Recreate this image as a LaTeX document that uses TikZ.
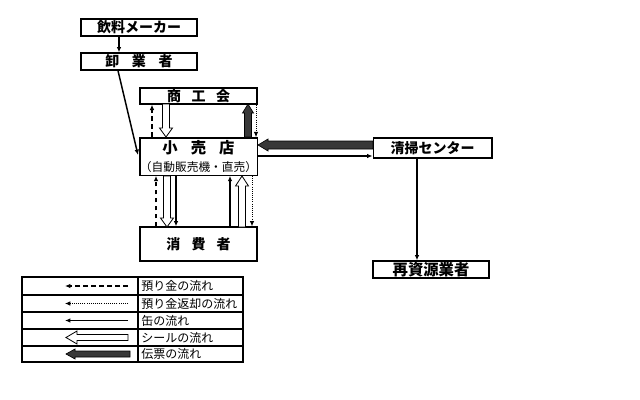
\documentclass[tikz,border=0pt]{standalone}
\usepackage{fontspec}
\setmainfont{Noto Sans CJK JP}
\usetikzlibrary{arrows.meta}
\begin{document}
\begin{tikzpicture}[x=0.75pt,y=-0.75pt,
  box/.style={draw,line width=1pt,rectangle,inner sep=0pt,font=\bfseries\fontsize{10.5}{12}\selectfont},
  tipped/.style={-{Latex[length=4pt,width=3.4pt]}},
  dsh/.style={tipped,dash pattern=on 3.6pt off 2.4pt,line width=1pt},
  dotl/.style={tipped,dash pattern=on 0.7pt off 0.9pt,line width=0.6pt},
  can/.style={tipped,line width=1.2pt},
  hollow/.style={draw,fill=white,line width=0.6pt},
  dark/.style={draw,fill=black!78,line width=0.5pt},
  legtext/.style={anchor=west,inner sep=0pt,font=\fontsize{9}{10}\selectfont},
  tab/.style={line width=0.9pt}]
\useasboundingbox (0,0) rectangle (640,400);

% boxes
\node[box,minimum width=87pt,minimum height=12.75pt] (maker) at (139,27.5) {飲料メーカー};
\node[box,minimum width=87pt,minimum height=12.75pt] (oroshi) at (139,61.5) {卸\hspace{0.9em}業\hspace{0.9em}者};
\node[box,minimum width=87.75pt,minimum height=12pt] (shoko) at (198.5,96) {商\hspace{0.75em}工\hspace{0.75em}会};
\node[box,minimum width=87.75pt,minimum height=28pt,align=center] (kouri) at (198.5,156.5)
  {{\fontsize{11.5}{12}\selectfont 小\hspace{0.85em}売\hspace{0.85em}店}\\[1.5pt]{\mdseries\fontsize{8.8}{10}\selectfont （自動販売機・直売）}};
\node[box,minimum width=87.75pt,minimum height=25.5pt] (shohi) at (198.5,244) {消\hspace{0.8em}費\hspace{0.8em}者};
\node[box,minimum width=89pt,minimum height=15pt] (seisou) at (432.5,148) {清掃センター};
\node[box,minimum width=87pt,minimum height=12.75pt,font=\bfseries\fontsize{11.5}{12}\selectfont] (saishigen) at (431,269.5) {再資源業者};

% column / row coordinates
\coordinate (xa) at (119,0);
\coordinate (xb) at (118,0);
\coordinate (c1) at (152,0);
\coordinate (c4) at (256,0);
\coordinate (d1) at (156,0);
\coordinate (d3) at (176,0);
\coordinate (d4) at (230,0);
\coordinate (d6) at (252,0);
\coordinate (ys) at (0,156);
\coordinate (xr) at (417,0);
\coordinate (wend) at (138,155);

% top chain
\draw[can] (xa |- maker.south) -- (xa |- oroshi.north);
\draw[can,line width=1.1pt] (xb |- oroshi.south) -- (wend);

% between shoko and kouri
\draw[dsh] (c1 |- kouri.north) -- (c1 |- shoko.south);
\draw[dotl] (c4 |- shoko.south) -- (c4 |- kouri.north);
\draw[hollow] (162.5,104) -- (162.5,128) -- (159.5,128) -- (166,137) -- (172.5,128) -- (169.5,128) -- (169.5,104) -- cycle;
\draw[dark] (244.5,137) -- (244.5,113) -- (242.5,113) -- (248,104) -- (253.5,113) -- (251.5,113) -- (251.5,137) -- cycle;

% between kouri and shohi
\draw[dsh] (d1 |- shohi.north) -- (d1 |- kouri.south);
\draw[hollow] (163.5,176) -- (163.5,218) -- (160.5,218) -- (167,227) -- (173.5,218) -- (170.5,218) -- (170.5,176) -- cycle;
\draw[can] (d3 |- kouri.south) -- (d3 |- shohi.north);
\draw[can] (d4 |- shohi.north) -- (d4 |- kouri.south);
\draw[hollow] (238.5,227) -- (238.5,186) -- (235.5,186) -- (242,176) -- (248.5,186) -- (245.5,186) -- (245.5,227) -- cycle;
\draw[dotl] (d6 |- kouri.south) -- (d6 |- shohi.north);

% kouri <-> seisou
\draw[dark] (373,141) -- (268,141) -- (268,139) -- (258,145) -- (268,151) -- (268,149) -- (373,149) -- cycle;
\draw[can] (kouri.east |- ys) -- (seisou.west |- ys);
\draw[can] (xr |- seisou.south) -- (xr |- saishigen.north);

% legend
\draw[tab] (22,277) rectangle (243,362);
\draw[tab] (22,295) -- (243,295);
\draw[tab] (22,312) -- (243,312);
\draw[tab] (22,329) -- (243,329);
\draw[tab] (22,346) -- (243,346);
\draw[tab] (138,277) -- (138,362);

\node[legtext] (l1) at (141,286) {預り金の流れ};
\node[legtext] (l2) at (141,303.5) {預り金返却の流れ};
\node[legtext] (l3) at (141,320.5) {缶の流れ};
\node[legtext] (l4) at (141,337.5) {シールの流れ};
\node[legtext] (l5) at (141,354) {伝票の流れ};

\coordinate (a1s) at (128,286); \coordinate (a1e) at (65,286);
\coordinate (a2s) at (128,303.5); \coordinate (a2e) at (65,303.5);
\coordinate (a3s) at (128,320.5); \coordinate (a3e) at (65,320.5);
\draw[dsh] (a1s) -- (a1e);
\draw[dotl] (a2s) -- (a2e);
\draw[can] (a3s) -- (a3e);
\draw[hollow] (128,334.5) -- (77,334.5) -- (77,331) -- (66,337.5) -- (77,344) -- (77,340.5) -- (128,340.5) -- cycle;
\draw[dark] (130,351) -- (75,351) -- (75,349) -- (66,354) -- (75,359) -- (75,357) -- (130,357) -- cycle;
\end{tikzpicture}
\end{document}
